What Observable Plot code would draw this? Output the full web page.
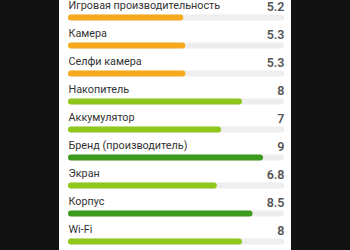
<!DOCTYPE html>
<html>
<head>
<meta charset="utf-8">
<script src="https://cdn.jsdelivr.net/npm/d3@7"></script>
<script src="https://cdn.jsdelivr.net/npm/@observablehq/plot@0.6"></script>
<style>
  html, body { margin: 0; padding: 0; background: #121212; overflow: hidden; width: 350px; height: 250px; }
  #chart { position: absolute; left: 59px; top: 0; }
  #chart svg { background: #ffffff; display: block; }
</style>
</head>
<body>
<div id="chart"></div>
<script>
const categories = [
  "Игровая производительность",
  "Камера",
  "Селфи камера",
  "Накопитель",
  "Аккумулятор",
  "Бренд (производитель)",
  "Экран",
  "Корпус",
  "Wi-Fi"
];
const scores = [5.2, 5.3, 5.3, 8, 7, 9, 6.8, 8.5, 8];
const maxScore = 10;

const data = categories.map((name, i) => ({ name, value: scores[i] }));
const colorFor = v => v < 6 ? "#f5a91d" : v > 8 ? "#3c9a1c" : "#8fc61c";

const plot = Plot.plot({
  width: 232,
  height: 250,
  marginLeft: 12,
  marginRight: 10,
  marginTop: 0,
  marginBottom: 0,
  x: { domain: [0, maxScore], axis: null },
  y: { type: "point", domain: categories, range: [16, 242], padding: 0, axis: null },
  style: { fontFamily: "Roboto, sans-serif", background: "#ffffff" },
  marks: [
    Plot.ruleY(data, { y: "name", x1: 0, x2: maxScore, stroke: "#eeeeee", strokeWidth: 6, strokeLinecap: "round" }),
    Plot.ruleY(data, { y: "name", x1: 0, x2: "value", stroke: d => colorFor(d.value), strokeWidth: 6, strokeLinecap: "round" }),
    Plot.text(data, { y: "name", x: 0, text: "name", textAnchor: "start", dx: -3, dy: -11.5, fontSize: 10.8, fill: "#333333" }),
    Plot.text(data, { y: "name", x: maxScore, text: d => String(d.value), textAnchor: "end", dx: 3, dy: -11, fontSize: 12.5, fontWeight: 600, fill: "#555555" })
  ]
});
document.getElementById("chart").appendChild(plot);
</script>
</body>
</html>
